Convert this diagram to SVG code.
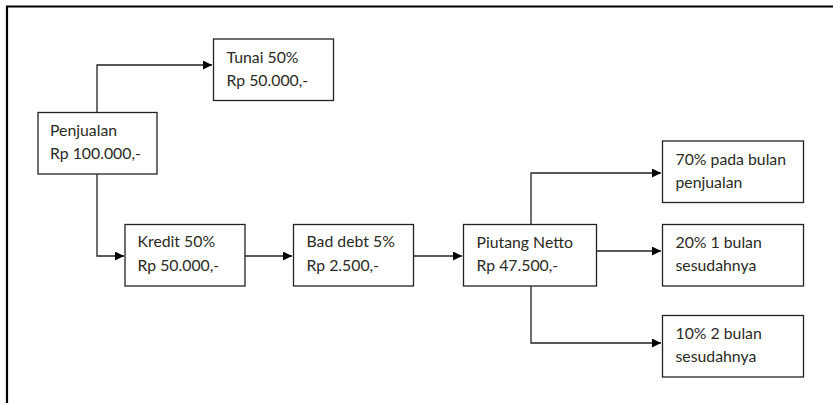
<svg xmlns="http://www.w3.org/2000/svg" width="833" height="403" viewBox="0 0 833 403">
<style>
.box{fill:#fff;stroke:#222;stroke-width:1.3}
.t{font-family:Lato,"Open Sans",sans-serif;font-size:15.8px;fill:#2a2a1e}
.c{fill:none;stroke:#222;stroke-width:1.3}
</style>
<defs>
<marker id="a" viewBox="0 0 10 10" refX="10" refY="5" markerWidth="9" markerHeight="9" markerUnits="userSpaceOnUse" orient="auto">
<path d="M0,0 L10,5 L0,10 z" fill="#000"/>
</marker>
</defs>
<rect width="833" height="403" fill="#fff"/>
<path d="M7,403 V6.5 H833" fill="none" stroke="#000" stroke-width="2.2"/>
<g id="connectors">
<path class="c" d="M97,112 V65 H212" marker-end="url(#a)"/>
<path class="c" d="M97,174 V256 H124" marker-end="url(#a)"/>
<path class="c" d="M245,256 H292" marker-end="url(#a)"/>
<path class="c" d="M413,256 H462" marker-end="url(#a)"/>
<path class="c" d="M531,224 V173 H661" marker-end="url(#a)"/>
<path class="c" d="M597,251 H661" marker-end="url(#a)"/>
<path class="c" d="M531,286 V343 H661" marker-end="url(#a)"/>
</g>
<g id="penjualan">
<rect class="box" x="38" y="112.5" width="119" height="61.5"/>
<text class="t" x="50" y="136">Penjualan</text>
<text class="t" x="50" y="159">Rp 100.000,-</text>
</g>
<g id="tunai">
<rect class="box" x="213.5" y="39" width="120" height="61.5"/>
<text class="t" x="226.5" y="63">Tunai 50%</text>
<text class="t" x="226.5" y="86">Rp 50.000,-</text>
</g>
<g id="kredit">
<rect class="box" x="125" y="224.5" width="120" height="61.5"/>
<text class="t" x="137.5" y="247">Kredit 50%</text>
<text class="t" x="137.5" y="271">Rp 50.000,-</text>
</g>
<g id="baddebt">
<rect class="box" x="293.5" y="224.5" width="120" height="61.5"/>
<text class="t" x="306.5" y="247">Bad debt 5%</text>
<text class="t" x="306.5" y="271">Rp 2.500,-</text>
</g>
<g id="piutang">
<rect class="box" x="463.5" y="224.5" width="133" height="61.5"/>
<text class="t" x="476.5" y="248">Piutang Netto</text>
<text class="t" x="476.5" y="271">Rp 47.500,-</text>
</g>
<g id="b70">
<rect class="box" x="662.5" y="141" width="141" height="61.5"/>
<text class="t" x="675.5" y="164.5">70% pada bulan</text>
<text class="t" x="675.5" y="188">penjualan</text>
</g>
<g id="b20">
<rect class="box" x="662.5" y="224.5" width="141" height="61.5"/>
<text class="t" x="675.5" y="248">20% 1 bulan</text>
<text class="t" x="675.5" y="271">sesudahnya</text>
</g>
<g id="b10">
<rect class="box" x="662.5" y="315.5" width="141" height="61.5"/>
<text class="t" x="675.5" y="338.5">10% 2 bulan</text>
<text class="t" x="675.5" y="362">sesudahnya</text>
</g>
</svg>
